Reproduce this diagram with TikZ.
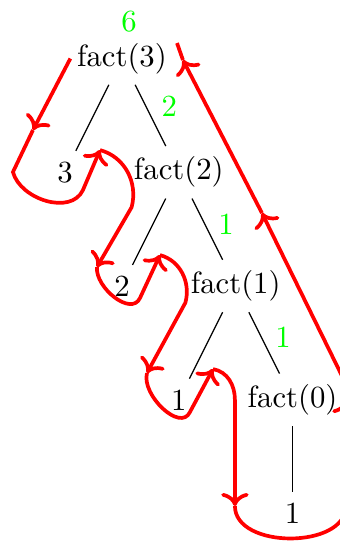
\documentclass[tikz,border=0pt]{standalone}
\usepackage{xcolor}
\usepackage{tikz}
\usetikzlibrary{arrows.meta, positioning}
\definecolor{tourred}{RGB}{255,0,0}
\definecolor{retgreen}{RGB}{0,255,0}
\tikzset{
  call/.style={inner sep=3.33pt},
  retval/.style={text=retgreen},
  tour/.style={->, very thick, color=tourred},
}
\begin{document}
\begin{tikzpicture}[on grid, node distance=1.3cm and 0.65cm]
  \useasboundingbox (-1.394,-5.514) rectangle (2.491,0.669);
  \clip (-1.394,-5.514) rectangle (2.491,0.669);
  % call tree
  \node[call] (f3) {fact(3)};
  \node[call, below left=of f3] (n3) {3};
  \node[call, below right=of f3] (f2) {fact(2)};
  \node[call, below left=of f2] (n2) {2};
  \node[call, below right=of f2] (f1) {fact(1)};
  \node[call, below left=of f1] (n1) {1};
  \node[call, below right=of f1] (f0) {fact(0)};
  \node[call, below=of f0] (n0) {1};
  \draw (f3) -- (n3);
  \draw (f3) -- (f2);
  \draw (f2) -- (n2);
  \draw (f2) -- (f1);
  \draw (f1) -- (n1);
  \draw (f1) -- (f0);
  \draw (f0) -- (n0);
  % returned values
  \node[retval, above right=0.42cm and 0.08cm of f3] (r3) {6};
  \node[retval, below right=0.54cm and 0.54cm of f3] (r2) {2};
  \node[retval, below right=0.59cm and 0.54cm of f2] (r1) {1};
  \node[retval, below right=0.59cm and 0.54cm of f1] (r0) {1};
  % walk round the tree
  \draw[tour] (-0.59,0) -- (-1.017,-0.817);
  \draw[tour] (-1.017,-0.817) -- (-1.246,-1.297)
    to[out=-75, in=-115] (-0.446,-1.503) -- (-0.251,-1.046);
  \draw[tour] (-0.251,-1.046) to[out=-15, in=75] (0.11,-1.70) -- (-0.286,-2.383);
  \draw[tour] (-0.286,-2.383) to[out=-95, in=-115] (0.206,-2.737) -- (0.434,-2.246);
  \draw[tour] (0.434,-2.246) to[out=-15, in=75] (0.725,-2.79) -- (0.286,-3.594);
  \draw[tour] (0.286,-3.594) to[out=-105, in=-115] (0.777,-4.040) -- (1.040,-3.549);
  \draw[tour] (1.040,-3.549) to[out=-10, in=90] (1.291,-3.903) -- (1.291,-5.114);
  \draw[tour] (1.291,-5.114) to[out=-90, in=-90] (2.560,-5.114) -- (2.560,-3.903);
  \draw[tour] (2.560,-3.903) -- (2.560,-3.720) -- (1.600,-1.766);
  \draw[tour] (1.600,-1.766) -- (0.697,-0.017);
  \draw[tour, -] (0.697,-0.017) -- (0.629,0.177);
\end{tikzpicture}
\end{document}
